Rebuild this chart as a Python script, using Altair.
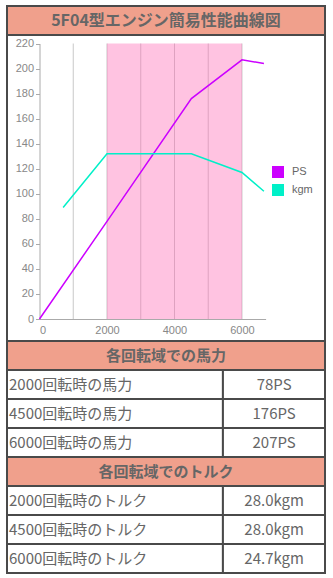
import altair as alt
import pandas as pd

TITLE = "5F04型エンジン簡易性能曲線図"

# performance curve (torque plotted on the same axis, scaled x4.7)
ps_rpm = [0, 2000, 4500, 6000, 6650]
ps_val = [0, 78, 176, 207, 204]
kgm_rpm = [700, 2000, 4500, 6000, 6650]
kgm_val = [89, 132, 132, 117, 102]
series_names = ["PS", "kgm"]
series_colors = ["#cc00ff", "#00f0c8"]

band_rpm = [2000, 6000]
grid_rpm = [1000, 2000, 3000, 4000, 5000, 6000]
x_ticks = [0, 2000, 4000, 6000]
y_ticks = list(range(0, 221, 20))

sections = ["各回転域での馬力", "各回転域でのトルク"]
labels_hp = ["2000回転時の馬力", "4500回転時の馬力", "6000回転時の馬力"]
values_hp = ["78PS", "176PS", "207PS"]
labels_tq = ["2000回転時のトルク", "4500回転時のトルク", "6000回転時のトルク"]
values_tq = ["28.0kgm", "28.0kgm", "24.7kgm"]

JP = "Noto Sans CJK JP"
SALMON = "#f0a08c"
BORDER = "#4a4a4a"
TXT = "#666666"
W = 318

# ---------- title view ----------
title_view = alt.Chart(pd.DataFrame({"t": [TITLE]})).mark_text(
    font=JP, fontSize=16, fontWeight="bold", color=TXT, align="center", baseline="middle"
).encode(text="t:N", x=alt.value(W / 2), y=alt.value(15)).properties(
    width=W, height=29,
    view=alt.ViewBackground(fill=SALMON, stroke=BORDER, strokeWidth=2),
)

# ---------- chart view ----------
xs = alt.Scale(domain=[0, 6700], range=[32.5, 258.6], nice=False, zero=False)
ys = alt.Scale(domain=[0, 220], range=[284, 8.5], nice=False)
x_axis = alt.Axis(values=x_ticks, format="d", offset=-22, grid=False, tickSize=0, labelPadding=5,
                  domainColor="#aaaaaa", labelColor="#888888", labelFontSize=11,
                  labelFont="Liberation Sans", title=None)
y_axis = alt.Axis(values=y_ticks, format="d", offset=-32.5, grid=False, tickSize=4, tickColor="#aaaaaa",
                  labelPadding=2, domainColor="#aaaaaa", labelColor="#888888", labelFontSize=11,
                  labelFont="Liberation Sans", title=None)

grid_df = pd.DataFrame({"rpm": grid_rpm})
grid = alt.Chart(grid_df).mark_rule(color="#c8c8c8", strokeWidth=1).encode(
    x=alt.X("rpm:Q", scale=xs, axis=x_axis),
    y=alt.Y(datum=0, scale=ys, axis=y_axis),
    y2=alt.Y2(datum=220),
)

band_df = pd.DataFrame({"a": [band_rpm[0]], "b": [band_rpm[1]]})
band = alt.Chart(band_df).mark_rect(color="#ff69b4", opacity=0.4).encode(
    x=alt.X("a:Q", scale=xs, axis=x_axis),
    x2="b:Q",
    y=alt.Y(datum=0, scale=ys, axis=y_axis),
    y2=alt.Y2(datum=220),
)

line_df = pd.DataFrame(
    {
        "rpm": ps_rpm + kgm_rpm,
        "val": ps_val + kgm_val,
        "series": ["PS"] * len(ps_rpm) + ["kgm"] * len(kgm_rpm),
    }
)
lines = alt.Chart(line_df).mark_line(strokeWidth=1.5).encode(
    x=alt.X("rpm:Q", scale=xs, axis=x_axis),
    y=alt.Y("val:Q", scale=ys, axis=y_axis),
    color=alt.Color(
        "series:N",
        scale=alt.Scale(domain=series_names, range=series_colors),
        sort=series_names,
        legend=alt.Legend(
            orient="none", legendX=265, legendY=160, title=None, symbolType="square",
            symbolSize=4, symbolStrokeWidth=10, clipHeight=12, labelFontSize=11, labelColor=TXT,
            labelFont="Liberation Sans", rowPadding=6, labelOffset=8, padding=0,
        ),
    ),
    order="rpm:Q",
)

chart_view = alt.layer(grid, band, lines).properties(
    width=W, height=306,
    view=alt.ViewBackground(fill="white", stroke=BORDER, strokeWidth=2),
)

# ---------- table view ----------
recs = []
r = 0
for title, labs, vals in [(sections[0], labels_hp, values_hp), (sections[1], labels_tq, values_tq)]:
    recs.append({"row": r, "kind": "head", "text": title, "x0": 0.0, "x1": 1.0, "tx": 0.5})
    r += 1
    for lab, val in zip(labs, vals):
        recs.append({"row": r, "kind": "lab", "text": lab, "x0": 0.0, "x1": 0.679, "tx": 0.0})
        recs.append({"row": r, "kind": "val", "text": val, "x0": 0.679, "x1": 1.0, "tx": 0.84})
        r += 1
tdf = pd.DataFrame(recs)

tx = alt.Scale(domain=[0, 1], nice=False, zero=False)
ty = alt.Scale(paddingInner=0, paddingOuter=0)
base = alt.Chart(tdf)

cells = base.mark_rect(stroke=BORDER, strokeWidth=2).encode(
    x=alt.X("x0:Q", scale=tx, axis=None),
    x2="x1:Q",
    y=alt.Y("row:O", scale=ty, axis=None),
    fill=alt.Fill("kind:N", scale=alt.Scale(domain=["head", "lab", "val"],
                                            range=[SALMON, "white", "white"]), legend=None),
)
head_txt = base.transform_filter("datum.kind == 'head'").mark_text(
    font=JP, fontSize=15, fontWeight="bold", color=TXT, align="center", baseline="middle"
).encode(x=alt.X("tx:Q", scale=tx, axis=None), y=alt.Y("row:O", scale=ty, axis=None), text="text:N")
lab_txt = base.transform_filter("datum.kind == 'lab'").mark_text(
    font=JP, fontSize=15, color=TXT, align="left", baseline="middle", dx=2
).encode(x=alt.X("tx:Q", scale=tx, axis=None), y=alt.Y("row:O", scale=ty, axis=None), text="text:N")
val_txt = base.transform_filter("datum.kind == 'val'").mark_text(
    font=JP, fontSize=15, color=TXT, align="center", baseline="middle"
).encode(x=alt.X("tx:Q", scale=tx, axis=None), y=alt.Y("row:O", scale=ty, axis=None), text="text:N")

table_view = alt.layer(cells, head_txt, lab_txt, val_txt).properties(
    width=W, height=232,
    view=alt.ViewBackground(fill="white", stroke=BORDER, strokeWidth=2),
)

chart = alt.vconcat(title_view, chart_view, table_view, spacing=0, bounds="flush").properties(
    padding={"left": 5, "top": 5, "right": 5, "bottom": 5},
    background="white",
)

chart.save("out.html", embed_options={"renderer": "svg", "actions": False})
